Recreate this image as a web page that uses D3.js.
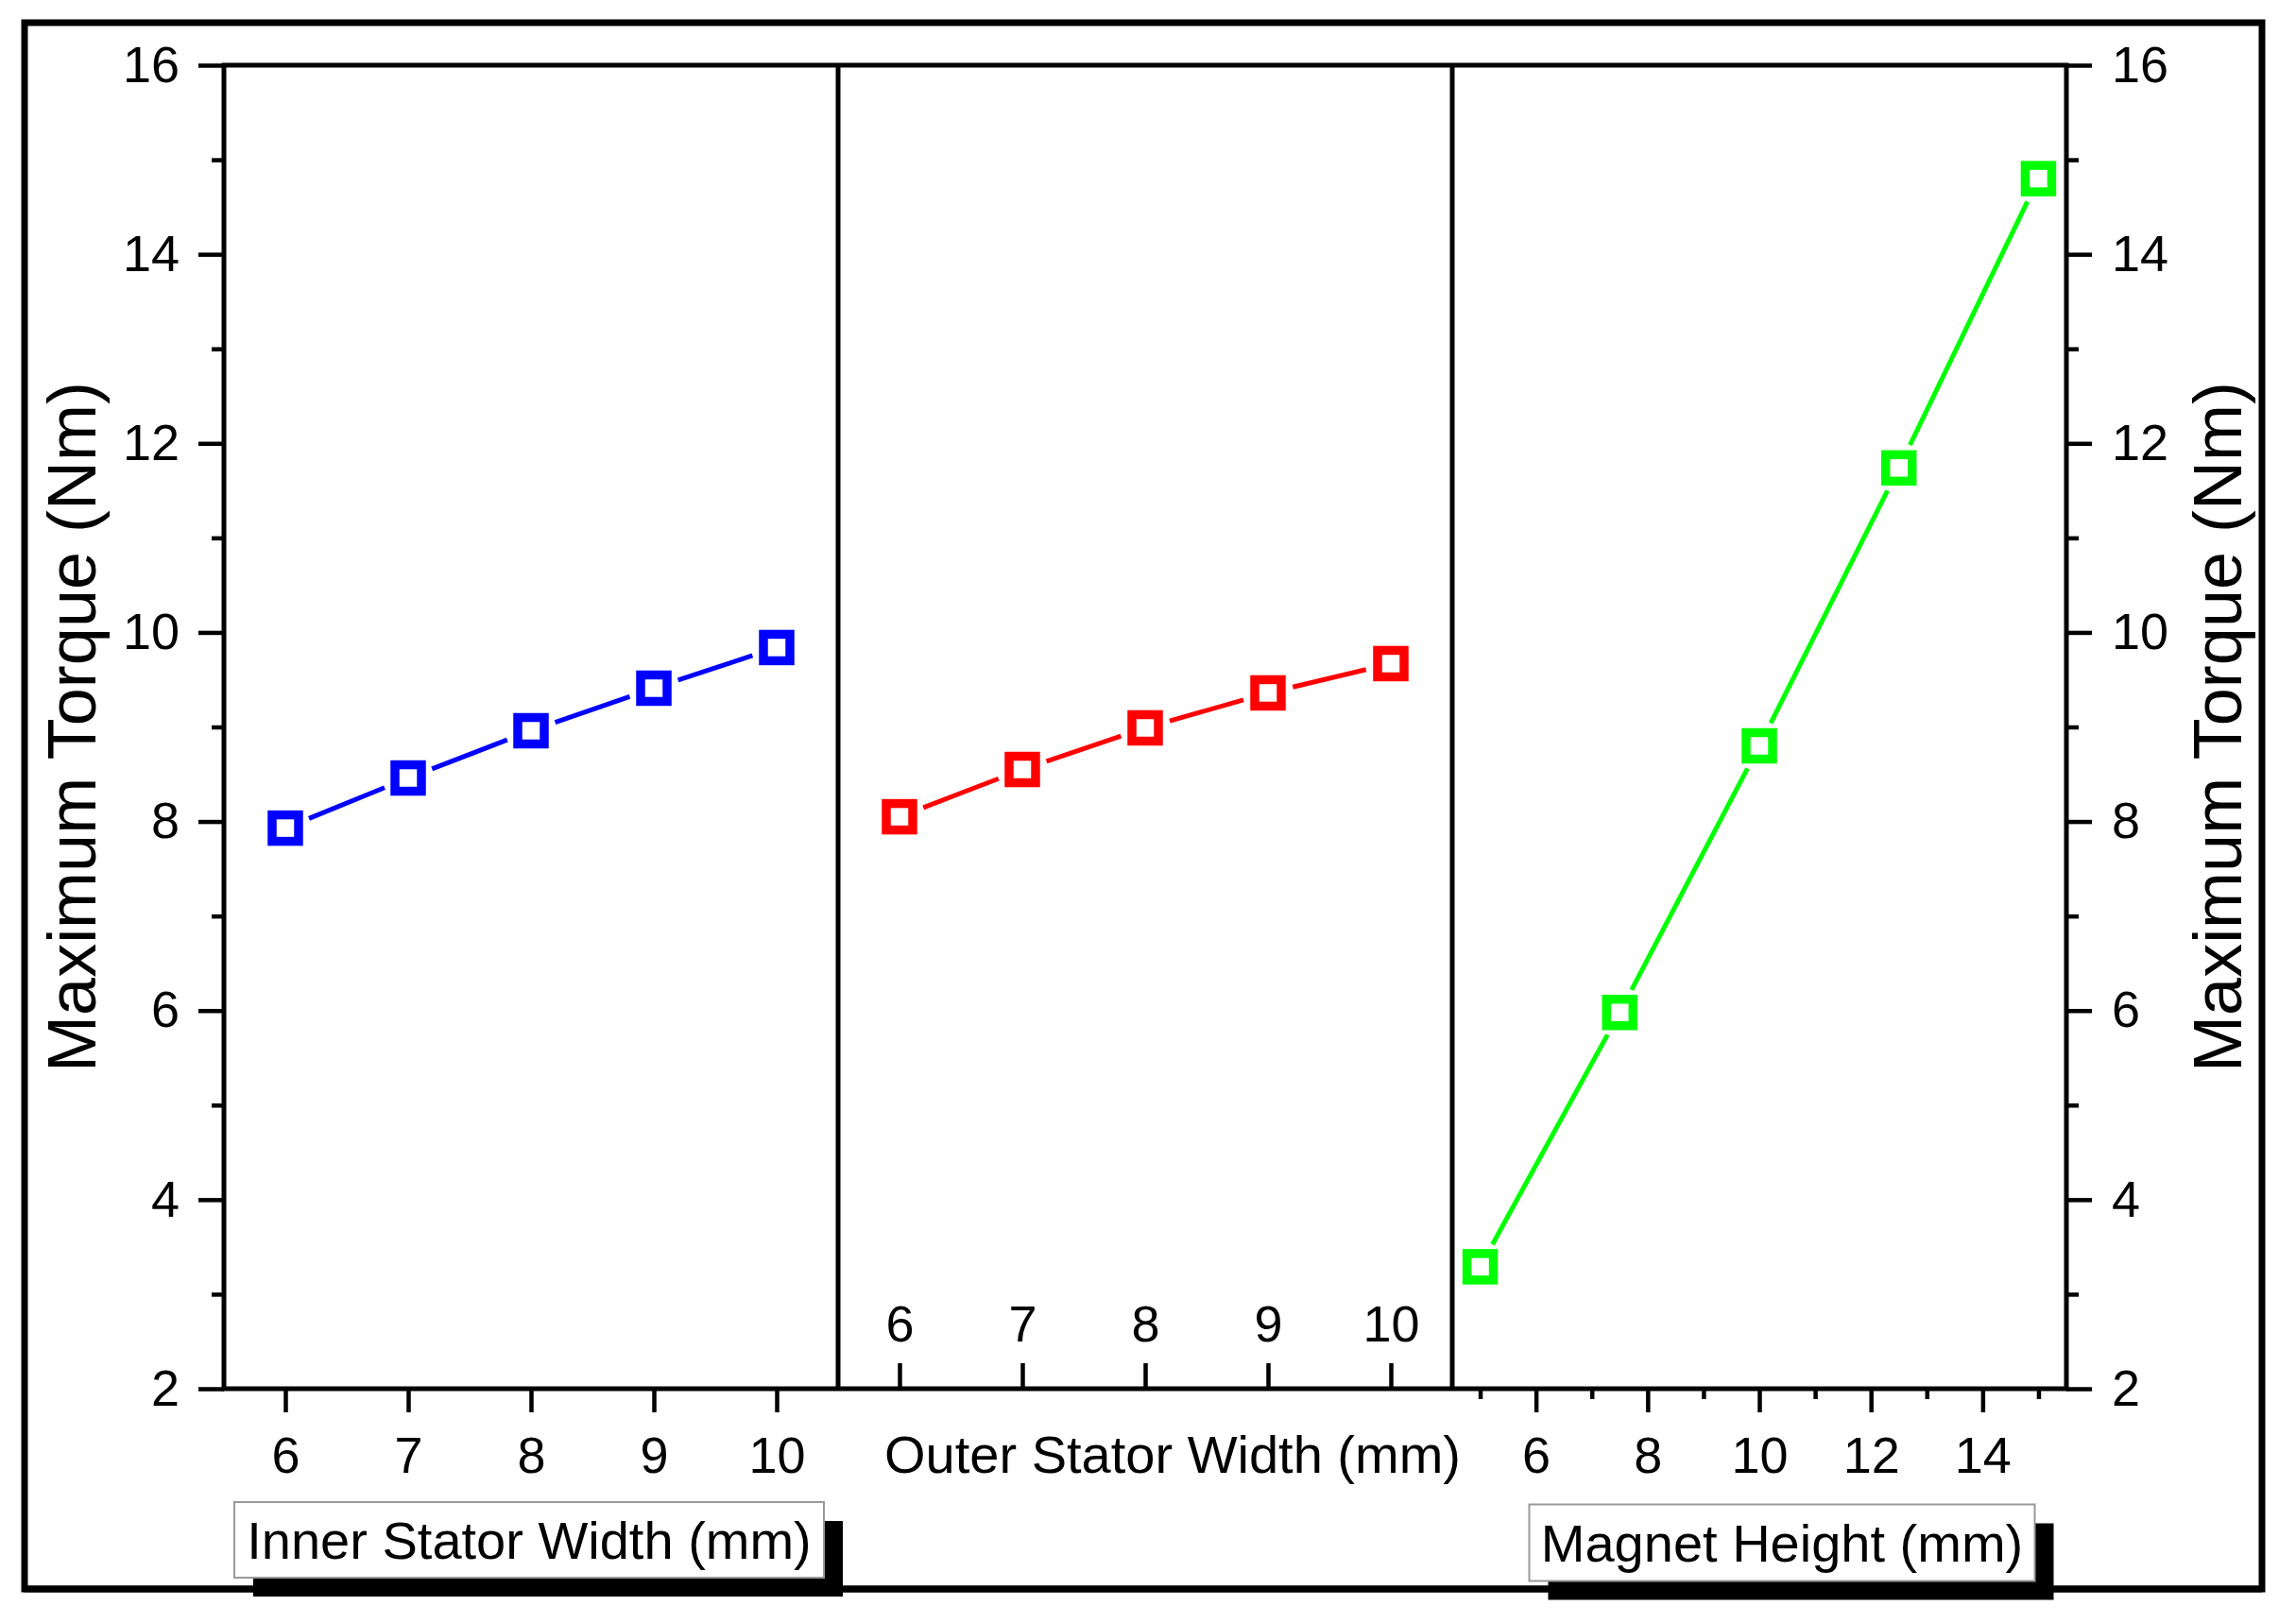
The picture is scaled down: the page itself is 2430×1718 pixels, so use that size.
<!DOCTYPE html>
<html>
<head>
<meta charset="utf-8">
<script src="https://cdn.jsdelivr.net/npm/d3@7"></script>
<style>
  body { margin: 0; background: #fff; }
  svg text { font-family: "Liberation Sans", Arial, sans-serif; fill: #000; }
</style>
</head>
<body>
<svg id="chart" width="2430" height="1718"></svg>
<script>
// data
var innerX = [6, 7, 8, 9, 10];
var innerTorque = [7.93, 8.46, 8.96, 9.41, 9.84];
var outerX = [6, 7, 8, 9, 10];
var outerTorque = [8.05, 8.55, 8.99, 9.36, 9.67];
var magnetX = [5, 7.5, 10, 12.5, 15];
var magnetTorque = [3.29, 5.98, 8.80, 11.74, 14.80];

var yTicks = [2, 4, 6, 8, 10, 12, 14, 16];
var yMinor = [3, 5, 7, 9, 11, 13, 15];
var widthTicks = [6, 7, 8, 9, 10];
var magnetTicks = [6, 8, 10, 12, 14];
var magnetMinor = [5, 7, 9, 11, 13, 15];

var yTitle = "Maximum Torque (Nm)";
var innerTitle = "Inner Stator Width (mm)";
var outerTitle = "Outer Stator Width (mm)";
var magnetTitle = "Magnet Height (mm)";

// layout (plotTop, not top: window.top is read-only)
var plotLeft = 237, plotTop = 69, plotBottom = 1470, panelW = 650;
var p1 = plotLeft, p2 = plotLeft + panelW, p3 = plotLeft + 2 * panelW, plotRight = plotLeft + 3 * panelW;

var svg = d3.select('#chart');

var y = d3.scaleLinear().domain([2, 16]).range([plotBottom, plotTop]);
var x1 = d3.scaleLinear().domain([5.5, 10.5]).range([p1, p2]);
var x2 = d3.scaleLinear().domain([5.5, 10.5]).range([p2, p3]);
var x3 = d3.scaleLinear().domain([4.5, 15.5]).range([p3, plotRight]);
var fmt = d3.format('d');

// outer frame
svg.append('rect')
  .attr('x', 26).attr('y', 24).attr('width', 2368).attr('height', 1658)
  .attr('fill', 'none').attr('stroke', '#000').attr('stroke-width', 7);

function styleAxis(g, size) {
  g.select('.domain').remove();
  g.selectAll('line').attr('stroke', '#000').attr('stroke-width', 4.5);
  g.selectAll('text').attr('font-size', size).attr('fill', '#000')
    .attr('font-family', '"Liberation Sans", Arial, sans-serif');
}

// y axes
svg.append('g').attr('transform', 'translate(' + plotLeft + ',0)')
  .call(d3.axisLeft(y).tickValues(yTicks).tickSize(27).tickPadding(20).tickFormat(fmt))
  .call(styleAxis, 54);
svg.append('g').attr('transform', 'translate(' + plotLeft + ',0)')
  .call(d3.axisLeft(y).tickValues(yMinor).tickSize(13).tickFormat(''))
  .call(styleAxis, 54);
svg.append('g').attr('transform', 'translate(' + plotRight + ',0)')
  .call(d3.axisRight(y).tickValues(yTicks).tickSize(27).tickPadding(21).tickFormat(fmt))
  .call(styleAxis, 54);
svg.append('g').attr('transform', 'translate(' + plotRight + ',0)')
  .call(d3.axisRight(y).tickValues(yMinor).tickSize(13).tickFormat(''))
  .call(styleAxis, 54);

// x axes
svg.append('g').attr('transform', 'translate(0,' + plotBottom + ')')
  .call(d3.axisBottom(x1).tickValues(widthTicks).tickSize(25).tickPadding(26).tickFormat(fmt))
  .call(styleAxis, 54);
svg.append('g').attr('transform', 'translate(0,' + plotBottom + ')')
  .call(d3.axisTop(x2).tickValues(widthTicks).tickSize(27).tickPadding(23).tickFormat(fmt))
  .call(styleAxis, 54);
svg.append('g').attr('transform', 'translate(0,' + plotBottom + ')')
  .call(d3.axisBottom(x3).tickValues(magnetTicks).tickSize(25).tickPadding(26).tickFormat(fmt))
  .call(styleAxis, 54);
svg.append('g').attr('transform', 'translate(0,' + plotBottom + ')')
  .call(d3.axisBottom(x3).tickValues(magnetMinor).tickSize(11).tickFormat(''))
  .call(styleAxis, 54);

// plot border and panel dividers
svg.append('rect')
  .attr('x', plotLeft).attr('y', plotTop).attr('width', plotRight - plotLeft).attr('height', plotBottom - plotTop)
  .attr('fill', 'none').attr('stroke', '#000').attr('stroke-width', 5);
[p2, p3].forEach(function(px) {
  svg.append('line').attr('x1', px).attr('x2', px).attr('y1', plotTop).attr('y2', plotBottom)
    .attr('stroke', '#000').attr('stroke-width', 5);
});

// series: line segments stop short of the markers
function drawSeries(xs, ys, xScale, color) {
  var pts = xs.map(function(d, i) { return [xScale(d), y(ys[i])]; });
  var gap = 27;
  var segs = d3.pairs(pts).map(function(p) {
    var dx = p[1][0] - p[0][0], dy = p[1][1] - p[0][1];
    var len = Math.sqrt(dx * dx + dy * dy);
    var ux = dx / len, uy = dy / len;
    return [p[0][0] + ux * gap, p[0][1] + uy * gap, p[1][0] - ux * gap, p[1][1] - uy * gap];
  });
  var g = svg.append('g');
  g.selectAll('line').data(segs).enter().append('line')
    .attr('x1', function(d) { return d[0]; })
    .attr('y1', function(d) { return d[1]; })
    .attr('x2', function(d) { return d[2]; })
    .attr('y2', function(d) { return d[3]; })
    .attr('stroke', color).attr('stroke-width', 5);
  g.selectAll('rect').data(pts).enter().append('rect')
    .attr('x', function(d) { return d[0] - 14; })
    .attr('y', function(d) { return d[1] - 14; })
    .attr('width', 28).attr('height', 28)
    .attr('fill', '#fff').attr('stroke', color).attr('stroke-width', 9.5);
}
drawSeries(innerX, innerTorque, x1, '#0000ff');
drawSeries(outerX, outerTorque, x2, '#ff0000');
drawSeries(magnetX, magnetTorque, x3, '#00ff00');

// y titles
var midY = (plotTop + plotBottom) / 2;
svg.append('text')
  .attr('transform', 'translate(101,' + midY + ') rotate(-90)')
  .attr('text-anchor', 'middle').attr('font-size', 72).text(yTitle);
svg.append('text')
  .attr('transform', 'translate(2372,' + midY + ') rotate(-90)')
  .attr('text-anchor', 'middle').attr('font-size', 72).text(yTitle);

// outer stator title, plain text
svg.append('text')
  .attr('x', (p2 + p3) / 2 + 29).attr('y', 1559)
  .attr('text-anchor', 'middle').attr('font-size', 56).text(outerTitle);

// boxed titles with drop shadow
function boxTitle(cx, cy, w, h, label) {
  svg.append('rect')
    .attr('x', cx - w / 2 + 20).attr('y', cy - h / 2 + 20)
    .attr('width', w).attr('height', h).attr('fill', '#000');
  svg.append('rect')
    .attr('x', cx - w / 2).attr('y', cy - h / 2)
    .attr('width', w).attr('height', h)
    .attr('fill', '#fff').attr('stroke', '#999').attr('stroke-width', 2);
  svg.append('text')
    .attr('x', cx).attr('y', cy).attr('dy', '0.36em')
    .attr('text-anchor', 'middle').attr('font-size', 56).text(label);
}
boxTitle((p1 + p2) / 2 - 2, 1630, 624, 80, innerTitle);
boxTitle((p3 + plotRight) / 2 + 24, 1633, 535, 81, magnetTitle);

// redraw frame bottom over the shadows
svg.append('line').attr('x1', 26).attr('x2', 2394).attr('y1', 1682).attr('y2', 1682)
  .attr('stroke', '#000').attr('stroke-width', 7);
</script>
</body>
</html>
